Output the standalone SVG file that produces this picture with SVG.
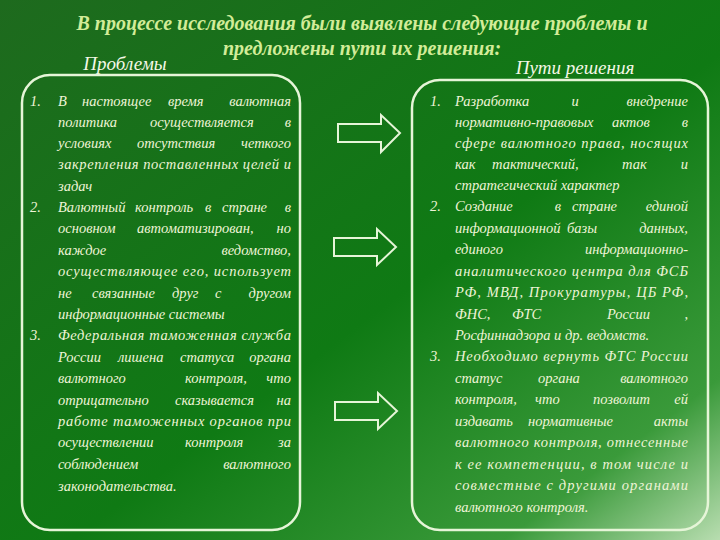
<svg xmlns="http://www.w3.org/2000/svg" width="720" height="540" viewBox="0 0 720 540">
<defs>
<linearGradient id="bg" x1="0" y1="0" x2="1" y2="1">
<stop offset="0" stop-color="#1e6a1e"/>
<stop offset="0.55" stop-color="#0f7a14"/>
<stop offset="0.85" stop-color="#3a9a3a"/>
<stop offset="1" stop-color="#b8ddb0"/>
</linearGradient>
<style>
.t{font-family:"Liberation Serif",serif;font-style:italic;fill:#eef4d6;font-size:14.5px}
.e{text-anchor:end}
.m{text-anchor:middle}
.h{font-family:"Liberation Serif",serif;font-style:italic;font-weight:bold;fill:#d2ec98;font-size:20px;text-anchor:middle}
.s{font-family:"Liberation Serif",serif;font-style:italic;fill:#f4f8e6;font-size:19px;text-anchor:middle}
.box{fill:none;stroke:#e6f5d8;stroke-width:2.5}
.arr{fill:none;stroke:#e6f5d8;stroke-width:2}
</style>
</defs>
<rect width="720" height="540" fill="url(#bg)"/>
<text class="h" x="362" y="30">В процессе исследования  были выявлены следующие проблемы и</text>
<text class="h" x="362" y="55">предложены пути их решения:</text>
<text class="s" x="125" y="70">Проблемы</text>
<text class="s" x="575" y="74">Пути решения</text>

<g id="problems">
<rect class="box" x="22" y="75" width="278" height="455" rx="28"/>
<text class="t" x="30" y="106">1.</text>
<text class="t" x="58" y="106">В</text><text class="t" x="82" y="106">настоящее</text><text class="t" x="168" y="106">время</text><text class="t e" x="291" y="106">валютная</text>
<text class="t" x="58" y="127">политика</text><text class="t" x="150" y="127">осуществляется</text><text class="t e" x="291" y="127">в</text>
<text class="t" x="58" y="148">условиях</text><text class="t" x="137" y="148">отсутствия</text><text class="t e" x="291" y="148">четкого</text>
<text class="t" x="58" y="169" textLength="233" lengthAdjust="spacing">закрепления поставленных целей и</text>
<text class="t" x="58" y="191">задач</text>
<text class="t" x="30" y="212">2.</text>
<text class="t" x="58" y="212">Валютный</text><text class="t" x="135" y="212">контроль</text><text class="t" x="205" y="212">в</text><text class="t" x="222" y="212">стране</text><text class="t e" x="291" y="212">в</text>
<text class="t" x="58" y="233">основном</text><text class="t" x="137" y="233">автоматизирован,</text><text class="t e" x="291" y="233">но</text>
<text class="t" x="58" y="255">каждое</text><text class="t e" x="291" y="255">ведомство,</text>
<text class="t" x="58" y="276" textLength="233" lengthAdjust="spacing">осуществляющее его, использует</text>
<text class="t" x="58" y="298">не</text><text class="t" x="92" y="298">связанные</text><text class="t" x="172" y="298">друг</text><text class="t" x="215" y="298">с</text><text class="t e" x="291" y="298">другом</text>
<text class="t" x="58" y="319">информационные системы</text>
<text class="t" x="30" y="340">3.</text>
<text class="t" x="58" y="340" textLength="233" lengthAdjust="spacing">Федеральная таможенная служба</text>
<text class="t" x="58" y="362">России</text><text class="t" x="118" y="362">лишена</text><text class="t" x="180" y="362">статуса</text><text class="t e" x="291" y="362">органа</text>
<text class="t" x="58" y="383">валютного</text><text class="t" x="185" y="383">контроля,</text><text class="t e" x="291" y="383">что</text>
<text class="t" x="58" y="405">отрицательно</text><text class="t" x="175" y="405">сказывается</text><text class="t e" x="291" y="405">на</text>
<text class="t" x="58" y="426" textLength="233" lengthAdjust="spacing">работе таможенных органов при</text>
<text class="t" x="58" y="447">осуществлении</text><text class="t" x="185" y="447">контроля</text><text class="t e" x="291" y="447">за</text>
<text class="t" x="58" y="469">соблюдением</text><text class="t e" x="291" y="469">валютного</text>
<text class="t" x="58" y="491">законодательства.</text>
</g>

<g id="solutions">
<rect class="box" x="412" y="80" width="296" height="450" rx="28"/>
<text class="t" x="430" y="106">1.</text>
<text class="t" x="455" y="106">Разработка</text><text class="t m" x="575" y="106">и</text><text class="t e" x="688" y="106">внедрение</text>
<text class="t" x="455" y="127">нормативно-правовых</text><text class="t" x="612" y="127">актов</text><text class="t e" x="688" y="127">в</text>
<text class="t" x="455" y="148" textLength="233" lengthAdjust="spacing">сфере валютного права, носящих</text>
<text class="t" x="455" y="169">как</text><text class="t" x="492" y="169">тактический,</text><text class="t" x="622" y="169">так</text><text class="t e" x="688" y="169">и</text>
<text class="t" x="455" y="190">стратегический характер</text>
<text class="t" x="430" y="211">2.</text>
<text class="t" x="455" y="211">Создание</text><text class="t m" x="558" y="211">в</text><text class="t" x="572" y="211">стране</text><text class="t e" x="688" y="211">единой</text>
<text class="t" x="455" y="233">информационной</text><text class="t" x="567" y="233">базы</text><text class="t e" x="688" y="233">данных,</text>
<text class="t" x="455" y="254">единого</text><text class="t e" x="688" y="254">информационно-</text>
<text class="t" x="455" y="276" textLength="233" lengthAdjust="spacing">аналитического центра для ФСБ</text>
<text class="t" x="455" y="297" textLength="233" lengthAdjust="spacing">РФ, МВД, Прокуратуры, ЦБ РФ,</text>
<text class="t" x="455" y="319">ФНС,</text><text class="t" x="512" y="319">ФТС</text><text class="t" x="607" y="319">России</text><text class="t e" x="688" y="319">,</text>
<text class="t" x="455" y="340">Росфиннадзора и др. ведомств.</text>
<text class="t" x="430" y="361">3.</text>
<text class="t" x="455" y="361" textLength="233" lengthAdjust="spacing">Необходимо вернуть ФТС России</text>
<text class="t" x="455" y="383">статус</text><text class="t" x="538" y="383">органа</text><text class="t e" x="688" y="383">валютного</text>
<text class="t" x="455" y="404">контроля,</text><text class="t" x="535" y="404">что</text><text class="t" x="593" y="404">позволит</text><text class="t e" x="688" y="404">ей</text>
<text class="t" x="455" y="426">издавать</text><text class="t" x="528" y="426">нормативные</text><text class="t e" x="688" y="426">акты</text>
<text class="t" x="455" y="447" textLength="233" lengthAdjust="spacing">валютного контроля, отнесенные</text>
<text class="t" x="455" y="469" textLength="233" lengthAdjust="spacing">к ее компетенции, в том числе и</text>
<text class="t" x="455" y="490" textLength="233" lengthAdjust="spacing">совместные с другими органами</text>
<text class="t" x="455" y="512">валютного контроля.</text>
</g>

<g id="connectors">
<path class="arr" d="M338,124 H381 V115 L400,133 L381,152 V142 H338 Z"/>
<path class="arr" d="M334,238 H377 V229 L396,247 L377,265 V256 H334 Z"/>
<path class="arr" d="M335,402 H378 V393 L397,411 L378,429 V420 H335 Z"/>
</g>
</svg>
